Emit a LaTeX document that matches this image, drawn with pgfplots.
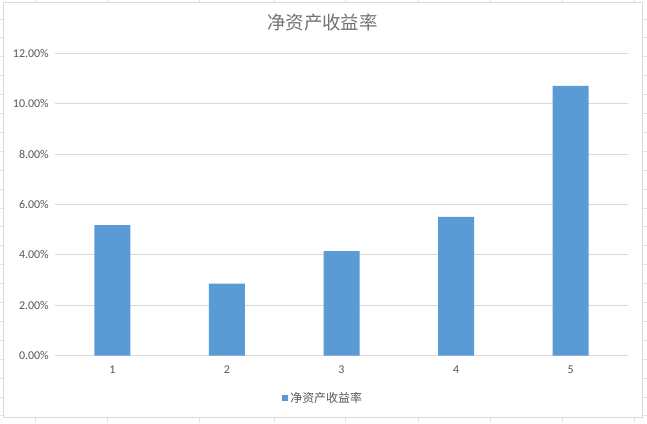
\documentclass[border=0pt]{standalone}
\usepackage{pgfplots}
\pgfplotsset{compat=1.18}
\usepackage{fontspec}
\setmainfont{Carlito}
\newfontfamily\cjk{Noto Sans CJK SC}

\definecolor{barblue}{HTML}{5B9BD5}
\definecolor{gridgray}{HTML}{D9D9D9}
\definecolor{txtgray}{HTML}{595959}
\definecolor{sheetgray}{HTML}{E3E3E3}

\begin{document}
\begin{tikzpicture}
% worksheet behind the chart, in picture pixels (y downwards)
\begin{scope}[shift={(-55bp,355.5bp)}, x=1bp, y=-1bp]
  \useasboundingbox (0,0) rectangle (647,423);
  \fill[white] (0,0) rectangle (647,423);
  \foreach \gx in {35,107,199,274,345,418,490,562,634}
    \draw[sheetgray, line width=0.8bp] (\gx,0) -- (\gx,423);
  \foreach \k in {1,...,22}
    \draw[sheetgray, line width=0.8bp] (0,18.9*\k) -- (647,18.9*\k);
  \filldraw[fill=white, draw=gridgray, line width=0.8bp] (3,2.5) rectangle (642,417);
  \node[font=\cjk\fontsize{18.5}{20}\selectfont, text=txtgray!85] at (322.5,22) {净资产收益率};
\end{scope}

\begin{axis}[
  at={(0,0)}, anchor=south west,
  scale only axis,
  width=573bp, height=302bp,
  ybar, bar width=36bp,
  xmin=0.5, xmax=5.5,
  ymin=0, ymax=12,
  xtick={1,2,3,4,5},
  ytick={0,2,4,6,8,10,12},
  yticklabel={\pgfmathprintnumber[fixed,fixed zerofill,precision=2]{\tick}\%},
  /pgf/number format/assume math mode=true,
  major tick length=0pt,
  axis line style={draw=none},
  ymajorgrids,
  major grid style={gridgray, line width=0.8bp},
  tick label style={font=\fontsize{12}{14}\selectfont, text=txtgray},
  yticklabel style={xshift=-2.7bp},
  xticklabel style={yshift=-7bp},
  legend style={at={(0.468,-0.141)}, anchor=center, draw=none, fill=none,
    font=\cjk\fontsize{12}{14}\selectfont, text=txtgray,
    /tikz/every even column/.append style={column sep=0pt}},
  legend image code/.code={\fill[barblue] (0bp,-3bp) rectangle (6bp,3bp);},
]
\addplot[fill=barblue, draw=none] coordinates {
  (1,5.18)
  (2,2.86)
  (3,4.15)
  (4,5.51)
  (5,10.71)
};
\addlegendentry{净资产收益率}
\end{axis}
\end{tikzpicture}
\end{document}
